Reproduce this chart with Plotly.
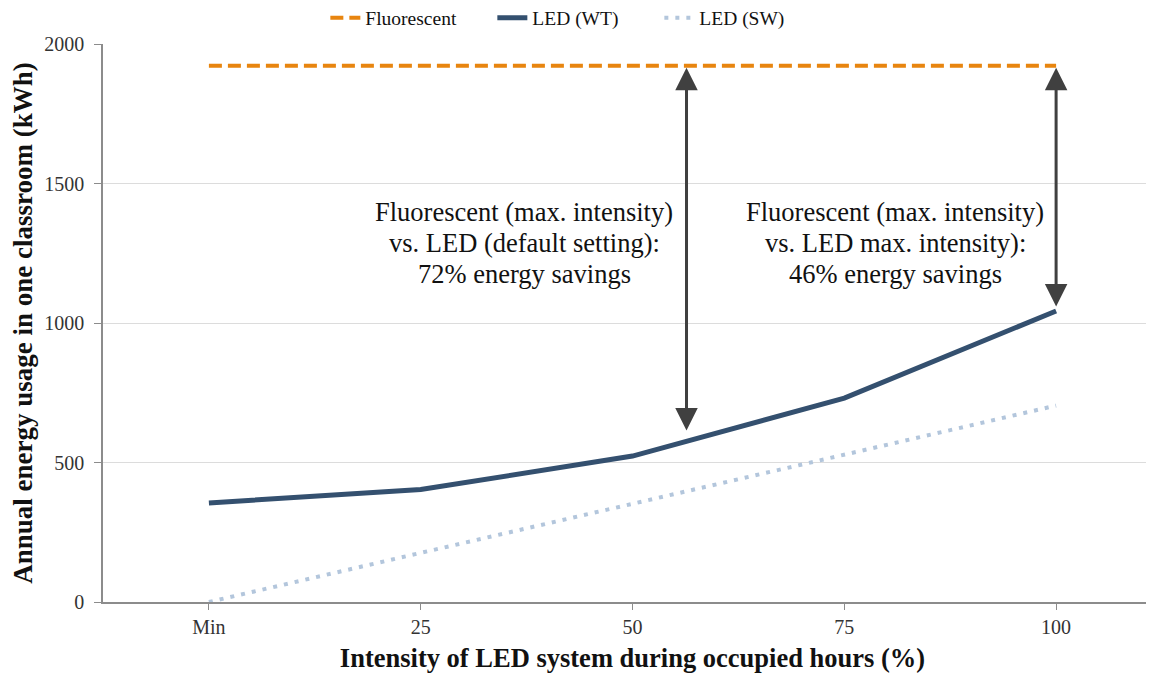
import plotly.graph_objects as go

categories = ["Min", "25", "50", "75", "100"]
fluorescent = [1922, 1922, 1922, 1922, 1922]
led_wt = [355, 403, 523, 731, 1043]
led_sw = [0, 176, 352, 528, 704]

note1_lines = ["Fluorescent (max. intensity)", "vs. LED (default setting):", "72% energy savings"]
note2_lines = ["Fluorescent (max. intensity)", "vs. LED max. intensity):", "46% energy savings"]
note_line_y = [1398, 1287, 1176]

FONT = "Liberation Serif"

fig = go.Figure()
fig.add_trace(go.Scatter(x=categories, y=fluorescent, mode="lines", name="Fluorescent",
                         line=dict(color="#E8850F", width=4, dash="13px,6px")))
fig.add_trace(go.Scatter(x=categories, y=led_wt, mode="lines", name="LED (WT)",
                         line=dict(color="#34506F", width=5)))
fig.add_trace(go.Scatter(x=categories, y=led_sw, mode="lines", name="LED (SW)",
                         line=dict(color="#B3C6DC", width=4, dash="4px,7px")))

arrow_color = "#404040"
fig.add_annotation(x=2.255, y=1915, ax=2.255, ay=609, xref="x", yref="y", axref="x", ayref="y",
                   showarrow=True, arrowhead=2, arrowside="end+start", arrowsize=1.5,
                   arrowwidth=3, arrowcolor=arrow_color, text="")
fig.add_annotation(x=4, y=1915, ax=4, ay=1054, xref="x", yref="y", axref="x", ayref="y",
                   showarrow=True, arrowhead=2, arrowside="end+start", arrowsize=1.5,
                   arrowwidth=3, arrowcolor=arrow_color, text="")

for line, yv in zip(note1_lines, note_line_y):
    fig.add_annotation(x=1.49, y=yv, xref="x", yref="y", showarrow=False, text=line,
                       font=dict(family=FONT, size=26.5, color="#111111"))
for line, yv in zip(note2_lines, note_line_y):
    fig.add_annotation(x=3.24, y=yv, xref="x", yref="y", showarrow=False, text=line,
                       font=dict(family=FONT, size=26.5, color="#111111"))

fig.update_layout(
    width=1154, height=677,
    margin=dict(l=95, r=0, t=36, b=83, autoexpand=False),
    paper_bgcolor="white", plot_bgcolor="white",
    font=dict(family=FONT, color="#222222"),
    showlegend=True,
    legend=dict(orientation="h", xref="container", yref="container",
                x=0.275, xanchor="left", y=0.985, yanchor="middle",
                font=dict(family=FONT, size=19.5, color="#111111"),
                entrywidthmode="pixels", entrywidth=122, itemwidth=30),
)
fig.update_xaxes(
    type="category", range=[-0.5, 4.5], automargin=False,
    showline=True, linecolor="#8C8C8C", linewidth=1.5,
    ticks="outside", ticklen=6, tickcolor="#8C8C8C",
    showgrid=False, zeroline=False,
    tickfont=dict(family=FONT, size=20, color="#333333"),
    title=dict(text="<b>Intensity of LED system during occupied hours (%)</b>",
               font=dict(family=FONT, size=26.5, color="#111111"), standoff=12),
)
fig.update_yaxes(
    range=[0, 2000], tickvals=[0, 500, 1000, 1500, 2000], automargin=False,
    showline=True, linecolor="#8C8C8C", linewidth=1.5,
    ticks="outside", ticklen=7, tickcolor="#8C8C8C", ticklabelstandoff=6,
    showgrid=True, gridcolor="#DCDCDC", gridwidth=1.2, zeroline=False,
    tickfont=dict(family=FONT, size=20, color="#333333"),
    title=dict(text="<b>Annual energy usage in one classroom (kWh)</b>",
               font=dict(family=FONT, size=27, color="#111111"), standoff=6),
)

fig.write_html("out.html")
